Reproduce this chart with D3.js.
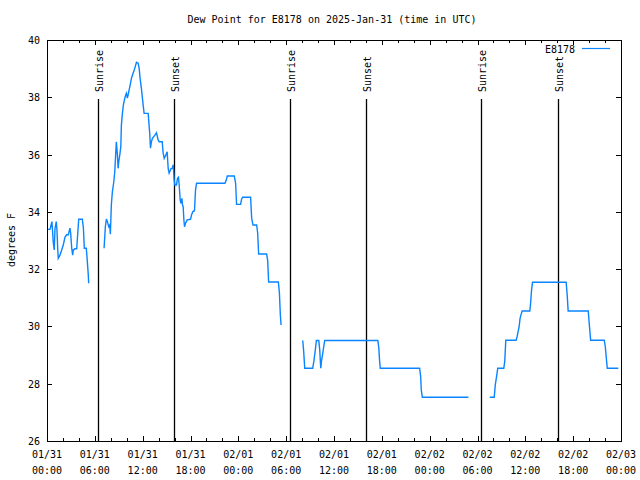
<!DOCTYPE html>
<html><head><meta charset="utf-8">
<script src="https://cdn.jsdelivr.net/npm/d3@7"></script>
<style>body{margin:0;background:#fff}svg{display:block}text{font-family:"DejaVu Sans Mono",monospace;font-size:10px;fill:#000}</style>
</head><body><svg id="c" width="640" height="480"></svg>
<script>
// hours since 2025-01-31 00:00 UTC, dew point in °F ; segments separated by data gaps
const seg1Hours = [0.12,0.37,0.62,0.79,0.91,1.00,1.16,1.25,1.34,1.41,1.63,1.84,2.04,2.26,2.47,2.67,2.88,2.97,3.10,3.22,3.30,3.51,3.73,3.80,3.98,4.43,4.56,4.68,4.93,5.02,5.18,5.23];
const seg1Values = [33.39,33.39,33.66,32.92,32.67,33.40,33.66,33.37,32.74,32.38,32.49,32.67,32.84,33.12,33.20,33.20,33.43,33.25,32.73,32.49,32.67,32.71,32.71,33.02,33.74,33.74,33.46,32.73,32.73,32.41,31.80,31.51];
const seg2Hours = [7.16,7.32,7.45,7.57,7.75,7.87,7.95,8.07,8.20,8.38,8.50,8.63,8.70,8.83,8.92,9.00,9.13,9.26,9.33,9.46,9.58,9.76,9.88,9.96,10.08,10.17,10.39,10.59,10.80,11.01,11.22,11.43,11.56,11.68,11.84,11.97,12.06,12.18,12.69,12.77,12.90,12.98,13.10,13.23,13.53,13.73,13.94,14.07,14.45,14.57,14.70,14.91,15.07,15.20,15.32,15.54,15.70,15.83,15.95,16.04,16.24,16.37,16.49,16.58,16.71,16.79,16.92,17.00,17.08,17.17,17.25,17.37,17.59,18.00,18.13,18.30,18.50,18.63,18.76,22.32,22.49,22.61,23.49,23.66,23.78,24.28,24.41,24.54,25.54,25.67,25.84,26.30,26.42,26.55,27.55,27.68,27.80,29.02,29.15,29.27,29.36];
const seg2Values = [32.73,33.48,33.75,33.66,33.48,33.54,33.22,34.24,34.70,35.05,35.40,36.10,36.45,35.99,35.52,35.75,35.99,36.28,37.03,37.44,37.73,37.97,38.08,38.14,37.97,38.08,38.37,38.66,38.84,39.01,39.22,39.19,39.01,38.66,38.31,37.97,37.73,37.44,37.44,37.15,36.68,36.22,36.45,36.57,36.68,36.76,36.51,36.45,36.45,36.05,35.87,35.99,36.10,35.52,35.35,35.50,35.52,35.64,35.11,34.94,34.94,35.17,35.21,34.94,34.41,34.30,34.47,34.24,34.18,33.72,33.48,33.60,33.72,33.74,33.89,34.01,34.04,34.76,35.00,35.00,35.11,35.25,35.25,35.00,34.26,34.26,34.44,34.51,34.51,33.78,33.54,33.54,33.27,32.53,32.53,32.30,31.55,31.55,31.18,30.40,30.05];
const seg3Hours = [32.08,32.20,32.33,33.33,33.46,33.63,33.79,34.09,34.21,34.34,34.43,34.59,34.71,34.84,41.50,41.62,41.71,41.80,46.74,46.87,46.95,47.08,52.86];
const seg3Values = [29.51,29.11,28.54,28.54,28.76,29.12,29.51,29.51,29.18,28.54,28.79,29.06,29.29,29.51,29.51,29.25,28.83,28.54,28.54,28.25,27.78,27.53,27.53];
const seg4Hours = [55.54,56.10,56.23,56.42,56.54,57.30,57.42,57.55,58.84,58.97,59.09,59.22,59.34,59.47,59.60,60.56,60.65,60.78,60.90,65.12,65.25,65.37,67.89,68.01,68.19,69.90,70.03,70.20,70.28,71.66];
const seg4Values = [27.53,27.53,27.96,28.30,28.54,28.54,28.79,29.52,29.52,29.64,29.82,29.99,30.28,30.42,30.54,30.54,30.77,31.27,31.54,31.54,31.10,30.54,30.54,30.11,29.52,29.52,29.29,28.77,28.54,28.54];

const sunEventHours = [6.44, 15.97, 30.53, 40.06, 54.45, 64.15];
const sunEventLabels = ["Sunrise","Sunset","Sunrise","Sunset","Sunrise","Sunset"];
const yTicks = [26,28,30,32,34,36,38,40];
const xTickHours = [0,6,12,18,24,30,36,42,48,54,60,66,72];
const xTickDates = ["01/31","01/31","01/31","01/31","02/01","02/01","02/01","02/01","02/02","02/02","02/02","02/02","02/03"];
const xTickTimes = ["00:00","06:00","12:00","18:00","00:00","06:00","12:00","18:00","00:00","06:00","12:00","18:00","00:00"];
const titleText = "Dew Point for E8178 on 2025-Jan-31 (time in UTC)";
const yLabel = "degrees F";
const seriesName = "E8178";

const L=47, R=621, T=40, B=441;
const svg = d3.select("#c");
const x = d3.scaleLinear().domain([0,72]).range([L,R]);
const y = d3.scaleLinear().domain([26,40]).range([B,T]);
const lineColor = "#0a84ff";

// frame
svg.append("rect").attr("x",L+0.5).attr("y",T+0.5).attr("width",R-L).attr("height",B-T)
  .attr("fill","none").attr("stroke","#000").attr("stroke-width",1);

// ticks
const g = svg.append("g").attr("shape-rendering","crispEdges").attr("stroke","#000");
d3.range(0,73,2).forEach(h=>{
  const len = h%6===0 ? 5 : 3;
  const xx = Math.round(x(h))+0.5;
  g.append("line").attr("x1",xx).attr("x2",xx).attr("y1",B).attr("y2",B-len);
  g.append("line").attr("x1",xx).attr("x2",xx).attr("y1",T).attr("y2",T+len);
});
yTicks.forEach(v=>{
  const yy = Math.round(y(v))+0.5;
  g.append("line").attr("x1",L).attr("x2",L+5).attr("y1",yy).attr("y2",yy);
  g.append("line").attr("x1",R).attr("x2",R-5).attr("y1",yy).attr("y2",yy);
});

// tick labels
yTicks.forEach(v=>{
  svg.append("text").attr("x",L-7).attr("y",y(v)+4).attr("text-anchor","end").text(v);
});
xTickHours.forEach((h,i)=>{
  svg.append("text").attr("x",x(h)).attr("y",458).attr("text-anchor","middle").text(xTickDates[i]);
  svg.append("text").attr("x",x(h)).attr("y",474).attr("text-anchor","middle").text(xTickTimes[i]);
});

// title & axis label
svg.append("text").attr("x",332).attr("y",23).attr("text-anchor","middle").text(titleText);
svg.append("text").attr("transform","translate(15,240) rotate(-90)").attr("text-anchor","middle").text(yLabel);

// sun events
sunEventHours.forEach((h,i)=>{
  const xx = Math.round(x(h))+0.5;
  svg.append("line").attr("x1",xx).attr("x2",xx).attr("y1",99).attr("y2",B)
    .attr("stroke","#000").attr("stroke-width",1.3);
  svg.append("text").attr("transform",`translate(${xx+4.5},92) rotate(-90)`)
    .attr("text-anchor","start").text(sunEventLabels[i]);
});

// series
const line = d3.line().x(d=>x(d[0])).y(d=>y(d[1]));
[[seg1Hours,seg1Values],[seg2Hours,seg2Values],[seg3Hours,seg3Values],[seg4Hours,seg4Values]].forEach(([hs,vs])=>{
  svg.append("path").datum(hs.map((h,i)=>[h,vs[i]])).attr("d",line)
    .attr("fill","none").attr("stroke",lineColor).attr("stroke-width",1.4);
});

// legend
svg.append("text").attr("x",575).attr("y",53).attr("text-anchor","end").text(seriesName);
svg.append("line").attr("x1",582).attr("x2",610).attr("y1",48.5).attr("y2",48.5)
  .attr("stroke",lineColor).attr("stroke-width",1.2);
</script></body></html>
